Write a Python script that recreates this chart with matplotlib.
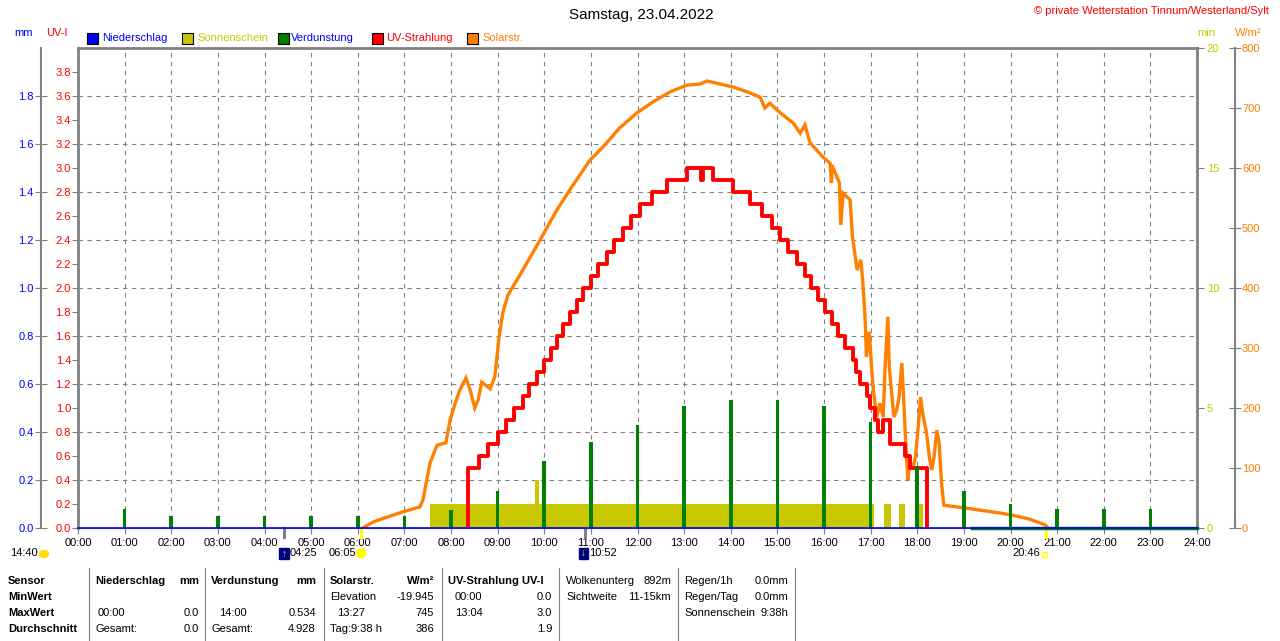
import matplotlib
matplotlib.use('Agg')
import matplotlib.pyplot as plt
from matplotlib.patches import Rectangle, Ellipse
from matplotlib.lines import Line2D
from matplotlib.ticker import FormatStrFormatter
import numpy as np

plt.rcParams['font.family'] = ['Liberation Sans', 'DejaVu Sans']

# ---- data ----
hours = list(range(25))
hour_labels = ['%02d:00' % h for h in hours]

# Verdunstung (mm) at the full hours 01..23
verd_hours = list(range(1, 24))
verd_mm = [0.08, 0.05, 0.05, 0.05, 0.05, 0.05, 0.05, 0.075, 0.155, 0.28, 0.36, 0.43,
           0.51, 0.534, 0.534, 0.51, 0.44, 0.26, 0.155, 0.10, 0.08, 0.08, 0.08]
verd_base_t = [19.18, 24.0]
verd_base_mm = [0.0, 0.0]

# Niederschlag (mm)
rain_t = [0.0, 24.0]
rain_mm = [0.0, 0.0]

# Sonnenschein (min) blocks
sun_start = [7.55, 9.80, 17.29, 17.61, 17.95]
sun_end = [17.08, 9.89, 17.44, 17.74, 18.12]
sun_min = [1.0, 2.0, 1.0, 1.0, 1.0]

# UV-Strahlung (UV-I), change points
uv_t = [8.36, 8.36, 8.60, 8.79, 9.01, 9.18, 9.35, 9.54, 9.67, 9.84, 9.99, 10.14, 10.27,
        10.40, 10.55, 10.70, 10.83, 11.00, 11.15, 11.35, 11.50, 11.69, 11.86, 12.05,
        12.31, 12.63, 13.06, 13.37, 13.40, 13.62, 14.05, 14.41, 14.67, 14.89, 15.06,
        15.23, 15.42, 15.59, 15.72, 15.87, 16.02, 16.17, 16.30, 16.45, 16.62, 16.69,
        16.77, 16.92, 16.99, 17.09, 17.16, 17.27, 17.42, 17.74, 17.84, 18.21]
uv_v = [0.0, 0.5, 0.6, 0.7, 0.8, 0.9, 1.0, 1.1, 1.2, 1.3, 1.4, 1.5, 1.6, 1.7, 1.8,
        1.9, 2.0, 2.1, 2.2, 2.3, 2.4, 2.5, 2.6, 2.7, 2.8, 2.9, 3.0, 2.9, 3.0, 2.9,
        2.8, 2.7, 2.6, 2.5, 2.4, 2.3, 2.2, 2.1, 2.0, 1.9, 1.8, 1.7, 1.6, 1.5, 1.4,
        1.3, 1.2, 1.1, 1.0, 0.9, 0.8, 0.9, 0.7, 0.6, 0.5, 0.0]

# Solarstrahlung (W/m2)
sol_t = [6.10, 6.15, 6.33, 6.62, 6.97, 7.33, 7.40, 7.48, 7.55, 7.70,
         7.89, 7.98, 8.09, 8.19, 8.32, 8.41, 8.51, 8.58, 8.66, 8.84,
         8.94, 9.03, 9.11, 9.22, 9.48, 9.91, 10.27, 10.62, 10.98, 11.26,
         11.62, 11.99, 12.33, 12.70, 13.06, 13.34, 13.49, 13.77, 14.05, 14.35,
         14.63, 14.73, 14.84, 15.06, 15.34, 15.49, 15.59, 15.70, 15.98, 16.13,
         16.16, 16.17, 16.24, 16.33, 16.36, 16.41, 16.56, 16.61, 16.66, 16.71,
         16.79, 16.83, 16.88, 16.91, 16.97, 17.02, 17.06, 17.13, 17.20, 17.27,
         17.31, 17.37, 17.40, 17.45, 17.50, 17.56, 17.61, 17.67, 17.72, 17.76,
         17.80, 17.84, 17.90, 17.96, 18.02, 18.07, 18.13, 18.20, 18.26, 18.31,
         18.36, 18.42, 18.47, 18.52, 18.57, 18.67, 19.06, 19.77, 20.00, 20.40,
         20.75, 20.80]
sol_w = [0, 2, 10, 18, 27, 35, 47, 80, 108, 138,
         142, 180, 208, 230, 250, 230, 200, 213, 243, 232,
         252, 318, 358, 388, 422, 480, 530, 572, 613, 635,
         667, 692, 710, 727, 738, 740, 745, 740, 735, 727,
         718, 700, 708, 692, 675, 658, 672, 642, 618, 608,
         575, 605, 592, 575, 505, 558, 547, 485, 458, 430,
         447, 413, 352, 285, 327, 268, 230, 185, 208, 185,
         268, 352, 268, 225, 185, 197, 218, 275, 197, 130,
         80, 113, 97, 118, 168, 218, 185, 158, 118, 97,
         118, 163, 142, 75, 38, 37, 33, 25, 22, 15,
         5, 0]

# moon / sun events below the time axis
event_t = [4.42, 6.08, 10.87, 20.77]
event_col = ['#808080', '#ffff00', '#808080', '#ffff00']

legend_names = ['Niederschlag', 'Sonnenschein', 'Verdunstung', 'UV-Strahlung', 'Solarstr.']
legend_box_cols = ['#0000ff', '#c8c800', '#008000', '#ff0000', '#ff8000']
legend_txt_cols = ['#0000ff', '#c8c800', '#0000ff', '#ff0000', '#ff8000']

# ---- figure ----
W, H = 1280, 641
fig = plt.figure(figsize=(12.8, 6.41), dpi=100)


def fx(x):
    return x / W


def fy(y):
    return 1 - y / H


def txt(x, y, s, **kw):
    kw.setdefault('fontsize', 8)
    kw.setdefault('va', 'center')
    fig.text(fx(x), fy(y), s, **kw)


grey = '#808080'
pos = [fx(78), fy(528), (1197 - 78) / W, 480 / H]

# background axes: frame, grid, time axis
bg = fig.add_axes(pos, zorder=0)
bg.set_xlim(0, 24)
bg.set_ylim(0, 4)
bg.set_xticks(hours)
bg.set_xticklabels(hour_labels, fontsize=8)
bg.set_yticks([0.4, 0.8, 1.2, 1.6, 2.0, 2.4, 2.8, 3.2, 3.6])
bg.tick_params(axis='y', left=False, labelleft=False)
bg.tick_params(axis='x', length=4, color=grey, pad=3)
bg.grid(True, color=grey, linestyle=(0, (4, 4)), linewidth=0.8)
for s in ['left', 'top', 'right']:
    bg.spines[s].set_color(grey)
    bg.spines[s].set_linewidth(2)
bg.spines['bottom'].set_color(grey)
bg.spines['bottom'].set_linewidth(0.8)
for t, c in zip(event_t, event_col):
    bg.axvline(t, ymin=-0.018, ymax=0, color=c, lw=2.2, clip_on=False)


def overlay(z):
    a = fig.add_axes(pos, zorder=z, sharex=bg)
    a.patch.set_visible(False)
    for s in a.spines.values():
        s.set_visible(False)
    a.tick_params(axis='x', bottom=False, labelbottom=False)
    return a


# Sonnenschein (min), right axis at the frame
ax_min = overlay(1)
ax_min.set_ylim(0, 20)
ax_min.yaxis.tick_right()
ax_min.set_yticks([0, 5, 10, 15, 20])
ax_min.tick_params(axis='y', length=5, color=grey, labelcolor='#c8c800', labelsize=8, pad=2)
ax_min.bar(sun_start, sun_min, width=np.array(sun_end) - np.array(sun_start),
           align='edge', color='#c8c800', lw=0)

# Solarstrahlung (W/m2), outer right axis
ax_w = overlay(2)
ax_w.set_ylim(0, 800)
ax_w.yaxis.tick_right()
ax_w.spines['right'].set_visible(True)
ax_w.spines['right'].set_position(('axes', (1235 - 78) / 1119))
ax_w.spines['right'].set_color(grey)
ax_w.spines['right'].set_linewidth(1.5)
ax_w.set_yticks(range(0, 801, 100))
ax_w.tick_params(axis='y', direction='inout', length=8, color=grey,
                 labelcolor='#ff8000', labelsize=8, pad=1)
ax_w.plot(sol_t, sol_w, color='#ff8000', lw=2.4, solid_joinstyle='miter')

# UV-Strahlung (UV-I), left axis at the frame
ax_uv = overlay(3)
ax_uv.set_ylim(0, 4)
ax_uv.set_yticks(np.round(np.arange(0, 3.81, 0.2), 1))
ax_uv.yaxis.set_major_formatter(FormatStrFormatter('%.1f'))
ax_uv.tick_params(axis='y', length=4, color=grey, labelcolor='#ff0000', labelsize=8, pad=1)
ax_uv.plot(uv_t, uv_v, color='#ff0000', lw=2.8, drawstyle='steps-post')

# Niederschlag / Verdunstung (mm), outer left axis
ax_mm = overlay(4)
ax_mm.set_ylim(0, 2)
ax_mm.spines['left'].set_visible(True)
ax_mm.spines['left'].set_position(('axes', (40.5 - 78) / 1119))
ax_mm.spines['left'].set_color(grey)
ax_mm.spines['left'].set_linewidth(1.5)
ax_mm.set_yticks(np.round(np.arange(0, 1.81, 0.2), 1))
ax_mm.yaxis.set_major_formatter(FormatStrFormatter('%.1f'))
ax_mm.tick_params(axis='y', direction='inout', length=8, color=grey,
                  labelcolor='#0000ff', labelsize=8, pad=1)
ax_mm.bar(verd_hours, verd_mm, width=0.08, color='#008000', lw=0)
ax_mm.plot(verd_base_t, verd_base_mm, color='#008000', lw=2.5, clip_on=False)
ax_mm.plot(rain_t, rain_mm, color='#0000ff', lw=1.2, clip_on=False)

# ---- header ----
txt(641, 15, 'Samstag, 23.04.2022', fontsize=11, ha='center')
txt(1269, 11, '\u00a9 private Wetterstation Tinnum/Westerland/Sylt', fontsize=8,
    ha='right', color='#ff0000')
txt(14, 33, 'mm', color='#0000ff')
txt(46, 33, 'UV-I', color='#ff0000')
txt(1197, 33, 'min', color='#c8c800')
txt(1235, 33, 'W/m\u00b2', color='#ff8000')
for x_box, x_txt, name, bc, tc in zip([87, 182, 278, 372, 467], [102, 197, 291, 386, 482],
                                      legend_names, legend_box_cols, legend_txt_cols):
    fig.add_artist(Rectangle((fx(x_box), fy(44)), 11 / W, 11 / H, facecolor=bc,
                             edgecolor='black', lw=0.8))
    txt(x_txt, 38, name, color=tc)

# ---- event labels under the time axis ----
txt(10, 553, '14:40')
fig.add_artist(Ellipse((fx(44), fy(554)), 9 / W, 7 / H, color='#ffe000'))
fig.add_artist(Rectangle((fx(279), fy(559)), 10 / W, 11 / H, color='#000080'))
txt(284, 554, '\u2191', color='#ffff00', ha='center', fontsize=7, fontweight='bold')
txt(290, 553, '04:25')
txt(329, 553, '06:05')
fig.add_artist(Ellipse((fx(361), fy(553)), 9 / W, 9 / H, color='#ffff00'))
fig.add_artist(Rectangle((fx(579), fy(559)), 9 / W, 11 / H, color='#000080'))
txt(583, 553, '\u2193', color='#ffff00', ha='center', fontsize=7, fontweight='bold')
txt(589, 553, '10:52')
txt(1012, 553, '20:46')
fig.add_artist(Rectangle((fx(1042), fy(557)), 5 / W, 5 / H, facecolor='none',
                         edgecolor='#ffff00', lw=1))

# ---- statistics table ----
for xs in [89, 205, 324, 442, 559, 678, 795]:
    fig.add_artist(Line2D([fx(xs), fx(xs)], [fy(568), fy(641)], color=grey, lw=0.8))

rows = [581, 597, 613, 629]
for y, s in zip(rows, ['Sensor', 'MinWert', 'MaxWert', 'Durchschnitt']):
    txt(8, y, s, fontweight='bold')

txt(95, rows[0], 'Niederschlag', fontweight='bold')
txt(199, rows[0], 'mm', fontweight='bold', ha='right')
txt(98, rows[2], '00:00')
txt(199, rows[2], '0.0', ha='right')
txt(95, rows[3], 'Gesamt:')
txt(199, rows[3], '0.0', ha='right')

txt(211, rows[0], 'Verdunstung', fontweight='bold')
txt(316, rows[0], 'mm', fontweight='bold', ha='right')
txt(219, rows[2], '14:00')
txt(316, rows[2], '0.534', ha='right')
txt(211, rows[3], 'Gesamt:')
txt(316, rows[3], '4.928', ha='right')

txt(330, rows[0], 'Solarstr.', fontweight='bold')
txt(434, rows[0], 'W/m\u00b2', fontweight='bold', ha='right')
txt(330, rows[1], 'Elevation')
txt(434, rows[1], '-19.945', ha='right')
txt(337, rows[2], '13:27')
txt(434, rows[2], '745', ha='right')
txt(330, rows[3], 'Tag:9:38 h')
txt(434, rows[3], '386', ha='right')

txt(448, rows[0], 'UV-Strahlung UV-I', fontweight='bold')
txt(455, rows[1], '00:00')
txt(552, rows[1], '0.0', ha='right')
txt(455, rows[2], '13:04')
txt(552, rows[2], '3.0', ha='right')
txt(552, rows[3], '1.9', ha='right')

txt(566, rows[0], 'Wolkenunterg')
txt(671, rows[0], '892m', ha='right')
txt(566, rows[1], 'Sichtweite')
txt(671, rows[1], '11-15km', ha='right')

txt(684, rows[0], 'Regen/1h')
txt(788, rows[0], '0.0mm', ha='right')
txt(684, rows[1], 'Regen/Tag')
txt(788, rows[1], '0.0mm', ha='right')
txt(684, rows[2], 'Sonnenschein')
txt(788, rows[2], '9:38h', ha='right')

fig.savefig('out.png', dpi=100)
